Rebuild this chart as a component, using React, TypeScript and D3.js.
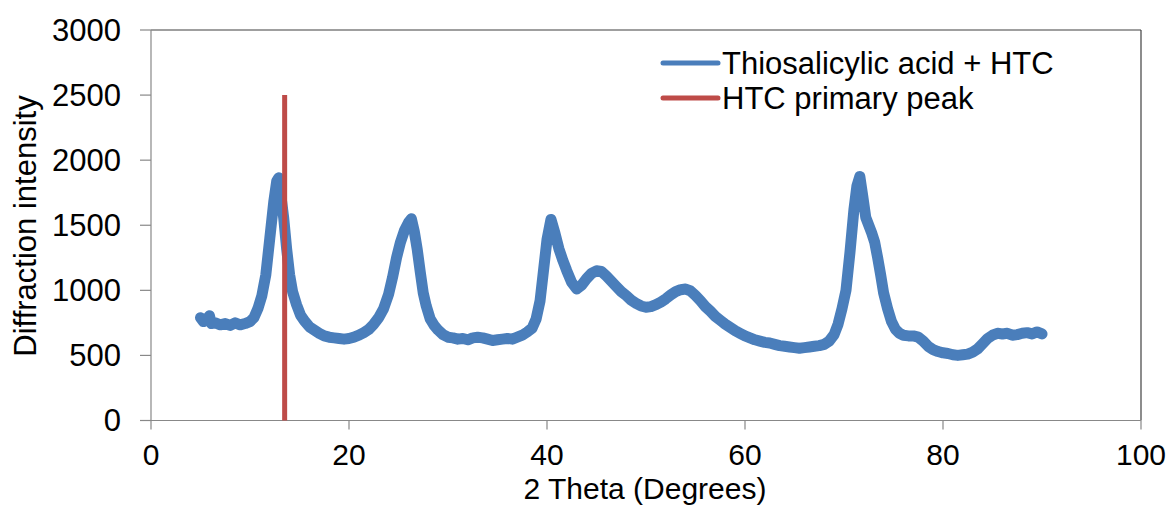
import React from "react";
import * as d3 from "d3";

const W = 1170;
const H = 505;

const xTicks = [0, 20, 40, 60, 80, 100];
const yTicks = [0, 500, 1000, 1500, 2000, 2500, 3000];

const seriesNames = ["Thiosalicylic acid + HTC", "HTC primary peak"];

// 2 theta (degrees)
const twoTheta = [
  5.0, 5.3, 5.6, 5.9, 6.1, 6.5, 7.0, 7.5, 8.0, 8.5, 9.0, 9.5, 10.0, 10.4, 10.8, 11.2, 11.6, 12.0, 12.4, 12.7,
  12.9, 13.1, 13.4, 13.7, 14.0, 14.3, 14.7, 15.1, 15.5, 16.0, 16.5, 17.0, 17.5, 18.0, 18.5, 19.0, 19.5, 20.0,
  20.5, 21.0, 21.5, 22.0, 22.5, 23.0, 23.5, 24.0, 24.4, 24.8, 25.2, 25.6, 26.0, 26.3, 26.6, 26.9, 27.2, 27.5,
  27.8, 28.2, 28.6, 29.0, 29.5, 30.0, 30.5, 31.0, 31.5, 32.0, 32.5, 33.0, 33.5, 34.0, 34.5, 35.0, 35.5, 36.0,
  36.5, 37.0, 37.5, 38.0, 38.5, 38.9, 39.3, 39.6, 40.0, 40.4, 40.8, 41.2, 41.6, 42.0, 42.5, 43.0, 43.5, 44.0,
  44.5, 45.0, 45.5, 46.0, 46.5, 47.0, 47.5, 48.0, 48.5, 49.0, 49.5, 50.0, 50.5, 51.0, 51.5, 52.0, 52.5, 53.0,
  53.5, 54.0, 54.5, 55.0, 55.5, 56.0, 56.5, 57.0, 57.5, 58.0, 58.5, 59.0, 59.5, 60.0, 60.5, 61.0, 61.5, 62.0,
  62.5, 63.0, 63.5, 64.0, 64.5, 65.0, 65.5, 66.0, 66.5, 67.0, 67.5, 68.0, 68.5, 69.0, 69.4, 69.8, 70.2, 70.6,
  71.0, 71.3, 71.6, 71.9, 72.2, 72.5, 72.8, 73.1, 73.4, 73.7, 74.0, 74.4, 74.8, 75.2, 75.6, 76.0, 76.5, 77.0,
  77.5, 78.0, 78.5, 79.0, 79.5, 80.0, 80.5, 81.0, 81.5, 82.0, 82.5, 83.0, 83.5, 84.0, 84.5, 85.0, 85.5, 86.0,
  86.5, 87.0, 87.5, 88.0, 88.5, 89.0, 89.5, 90.0,
];

// Diffraction intensity of "Thiosalicylic acid + HTC"
const intensity = [
  790, 760, 775, 805, 745, 750, 735, 745, 730, 750, 735, 745, 760, 790, 860, 960, 1120, 1400, 1680, 1840,
  1865, 1740, 1560, 1320, 1120, 990, 890, 810, 765, 720, 695, 670, 650, 640, 635, 630, 625, 630,
  640, 655, 675, 700, 740, 790, 860, 970, 1100, 1250, 1370, 1460, 1520, 1550, 1450, 1310, 1140, 980,
  880, 780, 730, 695, 660, 640, 635, 625, 630, 620, 635, 640, 635, 625, 615, 620, 625, 630,
  625, 640, 655, 680, 710, 780, 920, 1120, 1390, 1545, 1440, 1320, 1230, 1150, 1060, 1010, 1040, 1090,
  1130, 1150, 1145, 1110, 1070, 1030, 990, 960, 925, 900, 880, 870, 875, 890, 910, 935, 965, 990,
  1005, 1010, 995, 960, 920, 875, 840, 800, 770, 740, 715, 690, 670, 650, 635, 620, 610, 600,
  595, 585, 575, 570, 565, 560, 555, 560, 565, 570, 575, 585, 610, 660, 740, 860, 1000, 1290,
  1620, 1800, 1875, 1720, 1560, 1500, 1440, 1370, 1250, 1120, 980, 860, 760, 700, 670, 655, 650, 650,
  640, 610, 570, 545, 530, 520, 515, 505, 500, 505, 510, 525, 550, 590, 630, 655, 670, 665,
  670, 655, 660, 670, 675, 665, 680, 665,
];

// HTC primary peak marker
const peakTheta = [13.5, 13.5];
const peakIntensity = [0, 2500];

const BLUE = "#4A7EBB";
const RED = "#BE4B48";
const FONT = "'Liberation Sans', Arial, sans-serif";
const FS = 31;
const TICK_FS = 30;
const XTITLE_FS = 30;

export default function App() {
  const x = d3.scaleLinear().domain([0, 100]).range([151, 1141]);
  const y = d3.scaleLinear().domain([0, 3000]).range([420.5, 30]);

  const pts: [number, number][] = twoTheta.map((t, i) => [t, intensity[i]]);
  const line = d3
    .line<[number, number]>()
    .x((d) => x(d[0]))
    .y((d) => y(d[1]))
    .curve(d3.curveLinear);

  const peakPts: [number, number][] = peakTheta.map((t, i) => [t, peakIntensity[i]]);

  const x0 = x(0);
  const x1 = x(100);
  const y0 = y(0);
  const y1 = y(3000);

  return (
    <svg
      width={W}
      height={H}
      style={{ position: "absolute", left: 0, top: 0, background: "#fff" }}
      fontFamily={FONT}
    >
      <rect x={0} y={0} width={W} height={H} fill="#fff" />
      {/* plot border */}
      <line x1={x0} y1={y1} x2={x1} y2={y1} stroke="#404040" strokeWidth={1.2} />
      <line x1={x1} y1={y1} x2={x1} y2={y0} stroke="#404040" strokeWidth={1.2} />
      {/* axes */}
      <line x1={x0} y1={y1} x2={x0} y2={y0} stroke="#888" strokeWidth={1.2} />
      <line x1={x0} y1={y0} x2={x1} y2={y0} stroke="#888" strokeWidth={1.2} />
      {yTicks.map((t) => (
        <g key={"y" + t}>
          <line x1={x0 - 11} x2={x0} y1={y(t)} y2={y(t)} stroke="#888" strokeWidth={1.2} />
          <text x={121} y={y(t)} dy="0.35em" textAnchor="end" fontSize={FS} fill="#000">
            {t}
          </text>
        </g>
      ))}
      {xTicks.map((t) => (
        <g key={"x" + t}>
          <line x1={x(t)} x2={x(t)} y1={y0} y2={y0 + 9} stroke="#888" strokeWidth={1.2} />
          <text x={x(t)} y={464.5} textAnchor="middle" fontSize={TICK_FS} fill="#000">
            {t}
          </text>
        </g>
      ))}
      {/* axis titles */}
      <text x={645} y={498.5} textAnchor="middle" fontSize={XTITLE_FS} fill="#000">
        2 Theta (Degrees)
      </text>
      <text
        transform={`translate(36, ${226}) rotate(-90)`}
        textAnchor="middle"
        fontSize={FS}
        fill="#000"
      >
        Diffraction intensity
      </text>
      {/* series */}
      <path
        d={line(pts) || ""}
        fill="none"
        stroke={BLUE}
        strokeWidth={11}
        strokeLinejoin="round"
        strokeLinecap="round"
      />
      <path d={line(peakPts) || ""} fill="none" stroke={RED} strokeWidth={5} />
      {/* legend */}
      <line x1={663} x2={718} y1={63} y2={63} stroke={BLUE} strokeWidth={5} strokeLinecap="round" />
      <text x={722} y={74} fontSize={FS} fill="#000">
        {seriesNames[0]}
      </text>
      <line x1={663} x2={718} y1={98} y2={98} stroke={RED} strokeWidth={5} strokeLinecap="round" />
      <text x={722} y={109} fontSize={FS} fill="#000">
        {seriesNames[1]}
      </text>
    </svg>
  );
}
